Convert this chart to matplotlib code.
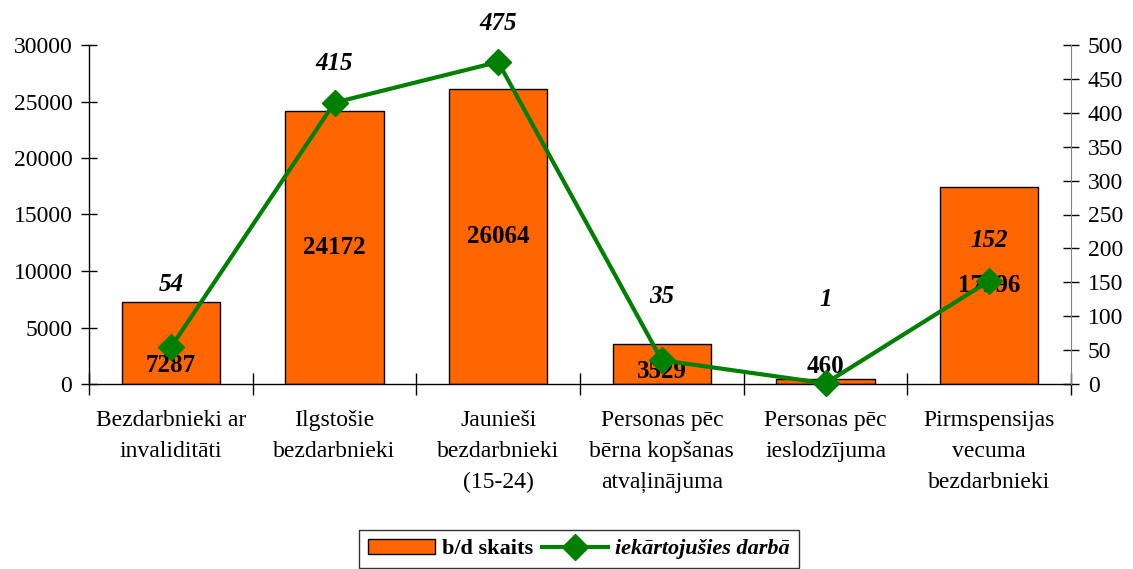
import matplotlib
matplotlib.use("Agg")
import matplotlib.pyplot as plt
import numpy as np
from matplotlib.ticker import FixedLocator, NullFormatter

plt.rcParams['font.family'] = ['Liberation Serif', 'DejaVu Serif']

categories = ["Bezdarbnieki ar\ninvaliditāti", "Ilgstošie\nbezdarbnieki",
              "Jaunieši\nbezdarbnieki\n(15-24)", "Personas pēc\nbērna kopšanas\natvaļinājuma",
              "Personas pēc\nieslodzījuma", "Pirmspensijas\nvecuma\nbezdarbnieki"]
bd_skaits = [7287, 24172, 26064, 3529, 460, 17396]
iekartojusies = [54, 415, 475, 35, 1, 152]
left_ticks = [0, 5000, 10000, 15000, 20000, 25000, 30000]
right_ticks = [0, 50, 100, 150, 200, 250, 300, 350, 400, 450, 500]

fig = plt.figure(figsize=(11.33, 5.69), dpi=100)
ax = fig.add_axes([89/1133, 1-384/569, (1071-89)/1133, (384-45)/569])
ax2 = ax.twinx()

x = np.arange(len(categories))
bars = ax.bar(x, bd_skaits, width=0.6, color="#FF6600", edgecolor="black", linewidth=1.0, zorder=2,
              label="b/d skaits")
ax.set_xlim(-0.5, len(categories) - 0.5)
ax.set_ylim(0, 30000)
ax.set_yticks(left_ticks)
ax.set_yticklabels([str(t) for t in left_ticks])
ax2.set_ylim(0, 500)
ax2.set_yticks(right_ticks)
ax2.set_yticklabels([str(t) for t in right_ticks])

line, = ax2.plot(x, iekartojusies, color="#008000", linewidth=3, marker="D", markersize=13,
                 clip_on=False, zorder=5, label="iekārtojušies darbā")

# x ticks at category boundaries
ax.xaxis.set_major_locator(FixedLocator(np.arange(-0.5, len(categories) + 0.5, 1.0)))
ax.xaxis.set_major_formatter(NullFormatter())
ax.xaxis.set_minor_locator(FixedLocator(x))
ax.set_xticklabels(categories, minor=True, linespacing=1.62)
ax.tick_params(axis='x', which='minor', length=0, pad=19, labelsize=17)
ax.tick_params(axis='x', which='major', direction='inout', length=16, width=1)
ax.tick_params(axis='y', direction='inout', length=12, width=1, labelsize=17, pad=6)
ax2.tick_params(axis='y', direction='inout', length=12, width=1, labelsize=17, pad=6)

for a in (ax, ax2):
    a.spines['top'].set_visible(False)
ax.spines['right'].set_visible(False)
ax2.spines['left'].set_visible(False)
ax2.spines['bottom'].set_visible(False)
ax2.spines['right'].set_color('#808080')
ax.spines['left'].set_linewidth(1)
ax.spines['bottom'].set_linewidth(1)

# bar value labels
bar_offsets = [-16, 0, 0, -5, 9, 0]
for xi, v, off in zip(x, bd_skaits, bar_offsets):
    if v < 2000:
        ax.annotate(str(v), (xi, v), xytext=(0, off), textcoords='offset points',
                    ha='center', va='center', fontsize=18, fontweight='bold', zorder=6)
    else:
        ax.annotate(str(v), (xi, v / 2), xytext=(0, off), textcoords='offset points',
                    ha='center', va='center', fontsize=18, fontweight='bold', zorder=6)

# line value labels
line_offsets = [45, 28, 28, 46, 60, 29]
for xi, v, off in zip(x, iekartojusies, line_offsets):
    ax2.annotate(str(v), (xi, v), xytext=(0, off), textcoords='offset points',
                 ha='center', va='center', fontsize=18, fontweight='bold', fontstyle='italic',
                 zorder=6, annotation_clip=False)

ax2.set_zorder(ax.get_zorder() + 1)
ax.patch.set_visible(False)

leg = fig.legend([bars, line], ["b/d skaits", "iekārtojušies darbā"], loc='center',
                 bbox_to_anchor=(579/1133, 1-549/569), ncol=2, frameon=True, fontsize=16,
                 handlelength=3.0, handletextpad=0.3, columnspacing=0.4, borderpad=0.4,
                 fancybox=False, edgecolor='black')
leg.get_frame().set_linewidth(1)
texts = leg.get_texts()
texts[0].set_fontweight('bold')
texts[1].set_fontweight('bold')
texts[1].set_fontstyle('italic')

fig.savefig("out.png", dpi=100)
